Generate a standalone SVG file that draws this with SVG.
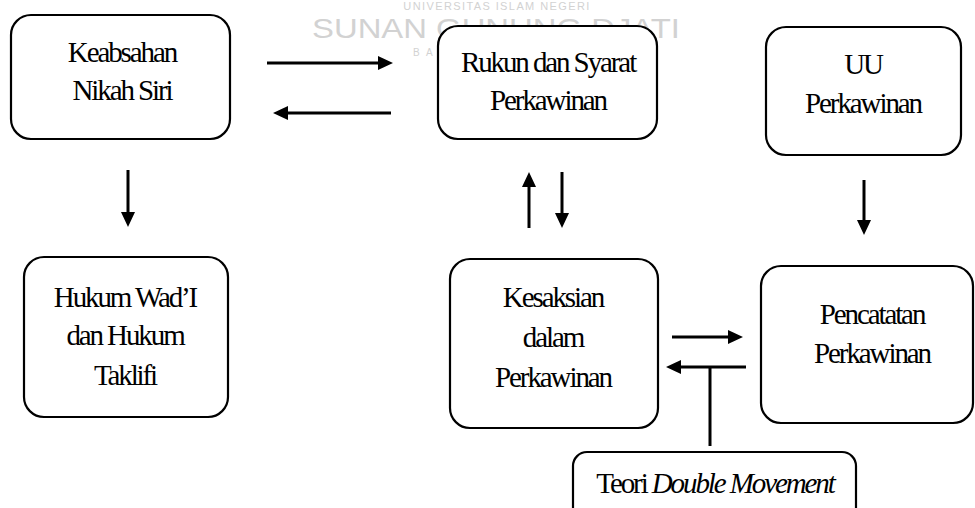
<svg xmlns="http://www.w3.org/2000/svg" width="975" height="508" viewBox="0 0 975 508">
<defs>
<style>
.box{fill:#fff;stroke:#000;stroke-width:2.2}
.lbl{font-family:"Liberation Serif","Times New Roman",serif;font-size:29px;letter-spacing:-2.1px;fill:#000;text-anchor:middle}
.con{stroke:#000;stroke-width:3;fill:none}
.arr{marker-end:url(#ah)}
.wm{font-family:"Liberation Sans","DejaVu Sans",sans-serif;fill:#d2d2d2}
</style>
<marker id="ah" markerUnits="userSpaceOnUse" markerWidth="15" markerHeight="14" refX="10" refY="7" orient="auto">
<path d="M0,0 L15,7 L0,14 z" fill="#000"/>
</marker>
</defs>
<rect width="975" height="508" fill="#fff"/>
<g id="watermark">
<text class="wm" x="497" y="10" font-size="11" letter-spacing="1.4" text-anchor="middle">UNIVERSITAS ISLAM NEGERI</text>
<text class="wm" x="312" y="38" font-size="28" textLength="368" lengthAdjust="spacingAndGlyphs">SUNAN GUNUNG DJATI</text>
<text class="wm" x="413" y="56" font-size="10" letter-spacing="2">B A</text>
</g>
<g id="connectors">
<line class="con arr" x1="267" y1="63" x2="388" y2="63"/>
<line class="con arr" x1="391" y1="113" x2="278" y2="113"/>
<line class="con arr" x1="128" y1="170" x2="128" y2="222"/>
<line class="con arr" x1="529" y1="228" x2="529" y2="177"/>
<line class="con arr" x1="562" y1="172" x2="562" y2="223"/>
<line class="con arr" x1="864" y1="180" x2="864" y2="230"/>
<line class="con arr" x1="672" y1="337" x2="738" y2="337"/>
<line class="con arr" x1="746" y1="367" x2="671" y2="367"/>
<line class="con" x1="710" y1="446" x2="710" y2="367"/>
</g>
<g id="keabsahan">
<rect class="box" x="11" y="15" width="219" height="124" rx="20"/>
<text class="lbl" x="122" y="62">Keabsahan</text>
<text class="lbl" x="122" y="100">Nikah Siri</text>
</g>
<g id="rukun">
<rect class="box" x="438" y="26" width="219" height="113" rx="20"/>
<text class="lbl" x="548" y="72">Rukun dan Syarat</text>
<text class="lbl" x="548" y="110">Perkawinan</text>
</g>
<g id="uu">
<rect class="box" x="766" y="27" width="195" height="128" rx="20"/>
<text class="lbl" x="863" y="74">UU</text>
<text class="lbl" x="863" y="113">Perkawinan</text>
</g>
<g id="hukum">
<rect class="box" x="24" y="257" width="204" height="160" rx="20"/>
<text class="lbl" x="125" y="307">Hukum Wad’I</text>
<text class="lbl" x="125" y="345">dan Hukum</text>
<text class="lbl" x="125" y="385">Taklifi</text>
</g>
<g id="kesaksian">
<rect class="box" x="450" y="259" width="208" height="169" rx="20"/>
<text class="lbl" x="553" y="307">Kesaksian</text>
<text class="lbl" x="553" y="347">dalam</text>
<text class="lbl" x="553" y="387">Perkawinan</text>
</g>
<g id="pencatatan">
<rect class="box" x="761" y="266" width="212" height="157" rx="20"/>
<text class="lbl" x="872" y="324">Pencatatan</text>
<text class="lbl" x="872" y="363">Perkawinan</text>
</g>
<g id="teori">
<rect class="box" x="573" y="452" width="283" height="80" rx="14"/>
<text class="lbl" x="715" y="493">Teori <tspan font-style="italic">Double Movement</tspan></text>
</g>
</svg>
